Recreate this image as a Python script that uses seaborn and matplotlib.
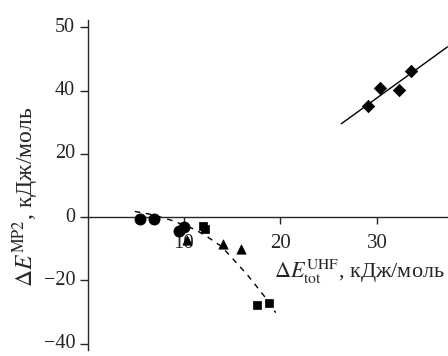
import numpy as np
import pandas as pd
import matplotlib
matplotlib.use("Agg")
import matplotlib.pyplot as plt
import seaborn as sns

# ===== data =====
circle_x = [5.4, 6.9, 9.5, 10.0]
circle_y = [-0.5, -0.5, -4.5, -3.0]

triangle_x = [10.3, 14.0, 15.9]
triangle_y = [-7.3, -8.5, -10.0]

square_x = [12.0, 12.2, 17.6, 18.8]
square_y = [-2.9, -3.9, -27.8, -27.0]

diamond_x = [29.1, 30.3, 32.3, 33.5]
diamond_y = [35.1, 40.8, 40.2, 46.1]

# dashed trend curve
curve_x = [4.9, 6.5, 8.5, 10.0, 11.2, 12.5, 13.9, 15.3, 16.5, 17.5, 18.4, 19.5]
curve_y = [1.8, 0.9, -0.8, -2.5, -4.0, -6.4, -9.3, -14.0, -18.0, -21.8, -25.3, -30.2]

# solid trend line
line_x = [26.3, 37.3]
line_y = [29.5, 53.8]

ytick_pos = [-40, -20, 0, 20, 40, 60]
ytick_labels = ["\u221240", "\u221220", "0", "20", "40", "50"]
xtick_pos = [10, 20, 30]
xtick_labels = ["10", "20", "30"]

sns.set_style("ticks")
plt.rcParams["font.family"] = ["Liberation Serif", "DejaVu Serif"]
plt.rcParams["mathtext.fontset"] = "stix"

fig = plt.figure(figsize=(4.48, 3.56), dpi=100)
ax = fig.add_axes([87.5 / 448, 6 / 356, 1 - 87.5 / 448, 330 / 356])

sns.lineplot(x=curve_x, y=curve_y, ax=ax, color="black", lw=1.0, sort=False,
             linestyle=(0, (4, 4)))
sns.lineplot(x=line_x, y=line_y, ax=ax, color="black", lw=1.0, sort=False)

mk = dict(color="black", edgecolor="black", linewidth=0.5, ax=ax, legend=False, zorder=3)
sns.scatterplot(x=circle_x, y=circle_y, marker="o", s=65, **mk)
sns.scatterplot(x=triangle_x, y=triangle_y, marker="^", s=45, **mk)
sns.scatterplot(x=square_x, y=square_y, marker="s", s=38, **mk)
sns.scatterplot(x=diamond_x, y=diamond_y, marker="D", s=40, **mk)

ax.set_xlim(0, 37.36)
ax.set_ylim(-42.0, 62.3)
ax.spines["top"].set_visible(False)
ax.spines["right"].set_visible(False)
ax.spines["bottom"].set_position(("data", 0))
ax.spines["left"].set_linewidth(1.0)
ax.spines["bottom"].set_linewidth(1.0)

ax.set_yticks(ytick_pos)
ax.set_yticklabels(ytick_labels, va="center")
ax.set_xticks(xtick_pos)
ax.set_xticklabels(xtick_labels)
ax.tick_params(axis="y", direction="out", length=6, width=1.0, pad=3, labelsize=14.5)
ax.tick_params(axis="x", direction="out", length=5, width=1.0, pad=7, labelsize=15)
ax.set_xlabel("")
ax.set_ylabel("")

ax.text(19.3, -19.3, r"$\Delta E^{\mathrm{UHF}}_{\mathrm{tot}}$, кДж/моль",
        ha="left", va="baseline", fontsize=16)
fig.text(26 / 448, 1 - 197 / 356, r"$\Delta E^{\mathrm{MP2}}$, кДж/моль",
         rotation=90, ha="center", va="center", fontsize=17)

fig.savefig("out.png", dpi=100)
